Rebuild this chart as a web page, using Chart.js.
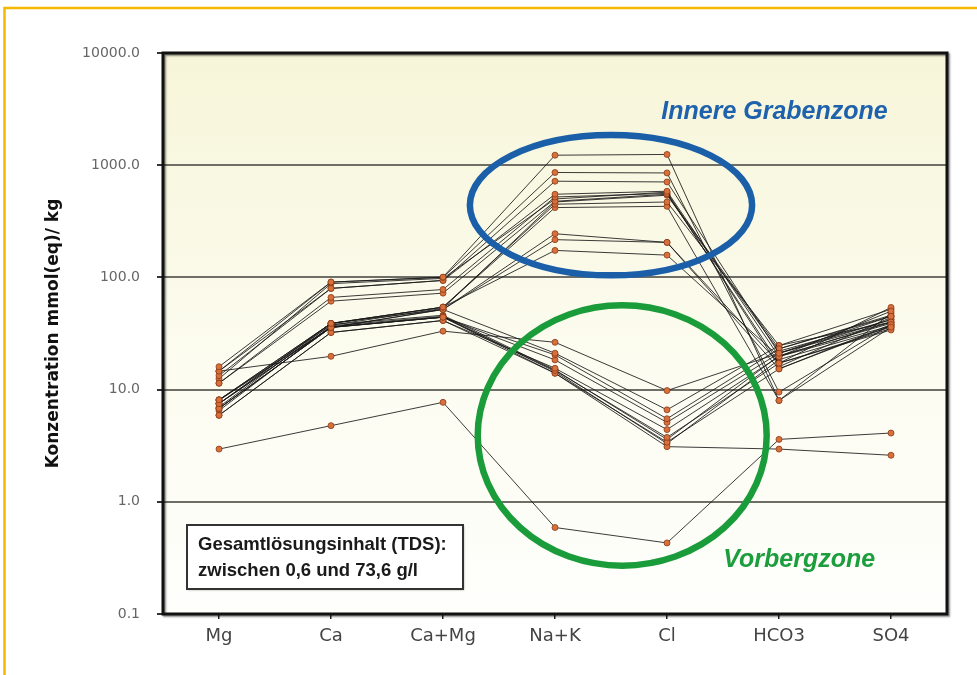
<!DOCTYPE html>
<html>
<head>
<meta charset="utf-8">
<script src="https://cdn.jsdelivr.net/npm/chart.js@4.4.1/dist/chart.umd.min.js"></script>
<style>
  html, body { margin: 0; padding: 0; background: #fff; }
  #wrap { width: 977px; height: 675px; position: relative; }
</style>
</head>
<body>
<div id="wrap"><canvas id="graphicFirst" width="977" height="675"></canvas></div>
<script>
// Ionen-Diagramm (Schoeller), log. Achse

const categories = ['Mg', 'Ca', 'Ca+Mg', 'Na+K', 'Cl', 'HCO3', 'SO4'];
const yTicks = [0.1, 1, 10, 100, 1000, 10000];

// Innere Grabenzone
const s01 = [16.0, 90.8, 100.6, 1228, 1247, 8.0, 36];
const s02 = [14.6, 90.8, 100.0, 861, 853, 9.5, 38];
const s03 = [13.3, 79.8, 94.0, 720, 709, 21.1, 45];
const s04 = [14.6, 79.8, 94.0, 551, 586, 19.7, 50];
const s05 = [11.4, 66.3, 78.0, 521, 560, 17.2, 54];
const s06 = [11.4, 61.4, 72.4, 477, 551, 23.1, 46];
const s07 = [8.1, 38.9, 54.3, 449, 470, 24.7, 40];
const s08 = [7.5, 38.9, 54.3, 419, 430, 8.0, 48];
const s09 = [8.1, 35.8, 51.8, 245, 205, 15.3, 37];
const s10 = [6.8, 35.8, 51.8, 217, 205, 17.2, 34];
const s11 = [7.5, 38.9, 54.3, 174, 158, 19.7, 40];
const s21 = [12.5, 88.0, 98.0, 500, 575, 16.0, 44];
const s22 = [8.0, 37.5, 53.0, 470, 540, 22.0, 42];
// Vorbergzone
const s12 = [14.6, 19.8, 33.2, 26.4, 9.8, 21.1, 42];
const s13 = [8.1, 38.9, 51.8, 21.1, 6.6, 24.7, 52];
const s14 = [7.5, 36.0, 44.2, 20.4, 5.5, 23.1, 45];
const s15 = [6.8, 35.8, 44.2, 18.4, 5.1, 21.1, 40];
const s16 = [5.9, 32.3, 41.3, 15.5, 4.4, 19.7, 37];
const s17 = [6.8, 35.8, 44.2, 14.8, 3.75, 17.2, 35];
const s18 = [5.9, 32.3, 41.3, 14.0, 3.4, 15.3, 38];
const s19 = [7.5, 36.0, 44.2, 14.0, 3.1, 2.95, 2.6];
const s23 = [6.5, 37.0, 45.0, 14.5, 3.3, 18.5, 36];
const s24 = [7.0, 38.0, 46.0, 15.0, 3.6, 20.0, 39];
const s20 = [2.95, 4.77, 7.7, 0.59, 0.43, 3.6, 4.1];

const allSeries = [s01, s02, s03, s04, s05, s06, s07, s08, s09, s10, s11, s21, s22,
                   s12, s13, s14, s15, s16, s17, s18, s19, s23, s24, s20];

// Ellipsen (Mitte als Kategorie-Index / Wert, Radien in Kategorien / Dekaden)
const zoneInner = { x: 3.5, y: 440, rx: 1.26, ry: 0.625, color: '#1a5fa8' };
const zoneOuter = { x: 3.6, y: 3.9, rx: 1.29, ry: 1.16, color: '#1a9c3a' };

const FONT = "'DejaVu Sans', Verdana, sans-serif";

function buildDatasets(){
  let out = [];
  for (let i = 0; i < allSeries.length; i++) {
    out.push({
      label: 'Probe ' + (i + 1),
      data: allSeries[i],
      borderColor: 'rgba(25,25,25,0.85)',
      borderWidth: 1,
      pointRadius: 3,
      pointBackgroundColor: '#d8703c',
      pointBorderColor: '#8c3b18',
      pointBorderWidth: 0.8,
      tension: 0
    });
  }
  return out;
}

//-----PLUGINS
const plotBackground = {
  id: 'plotBackground',
  beforeDraw(chart){
    const {ctx, chartArea: a} = chart;
    const g = ctx.createLinearGradient(0, a.top, 0, a.bottom);
    g.addColorStop(0, '#f7f5d8');
    g.addColorStop(0.55, '#fcfcf0');
    g.addColorStop(1, '#fefefc');
    ctx.save();
    ctx.fillStyle = g;
    ctx.fillRect(a.left, a.top, a.right - a.left, a.bottom - a.top);
    ctx.restore();
  }
};

function drawZone(chart, z){
  const xs = chart.scales.x, ys = chart.scales.y, ctx = chart.ctx;
  const cx = xs.getPixelForValue(z.x);
  const cy = ys.getPixelForValue(z.y);
  const rx = xs.getPixelForValue(z.x + z.rx) - cx;
  const ry = cy - ys.getPixelForValue(z.y * Math.pow(10, z.ry));
  ctx.save();
  ctx.beginPath();
  ctx.ellipse(cx, cy, rx, ry, 0, 0, Math.PI * 2);
  ctx.lineWidth = 6.5;
  ctx.strokeStyle = z.color;
  ctx.stroke();
  ctx.restore();
}

const decorations = {
  id: 'decorations',
  afterDraw(chart){
    const {ctx, chartArea: a} = chart;
    const xs = chart.scales.x, ys = chart.scales.y;

    drawZone(chart, zoneInner);
    drawZone(chart, zoneOuter);

    // Rahmen
    ctx.save();
    ctx.shadowColor = 'rgba(0,0,0,0.45)';
    ctx.shadowBlur = 2;
    ctx.shadowOffsetX = 1.5;
    ctx.shadowOffsetY = 1.5;
    ctx.lineWidth = 3;
    ctx.strokeStyle = '#111';
    ctx.strokeRect(a.left, a.top, a.right - a.left, a.bottom - a.top);
    ctx.restore();

    // Beschriftung der Zonen
    ctx.save();
    ctx.font = "italic bold 25px 'Liberation Sans', Arial, sans-serif";
    ctx.textAlign = 'center';
    ctx.textBaseline = 'middle';
    ctx.fillStyle = '#1e62ae';
    ctx.fillText('Innere Grabenzone', xs.getPixelForValue(4.96), ys.getPixelForValue(3000));
    ctx.fillStyle = '#1c9e3c';
    ctx.fillText('Vorbergzone', xs.getPixelForValue(5.18), ys.getPixelForValue(0.3));
    ctx.restore();

    // TDS-Kasten
    const bx = a.left + 24, by = a.bottom - 89, bw = 276, bh = 64;
    ctx.save();
    ctx.fillStyle = '#ffffff';
    ctx.shadowColor = 'rgba(0,0,0,0.35)';
    ctx.shadowBlur = 2;
    ctx.shadowOffsetX = 1;
    ctx.shadowOffsetY = 1;
    ctx.fillRect(bx, by, bw, bh);
    ctx.shadowColor = 'transparent';
    ctx.lineWidth = 2;
    ctx.strokeStyle = '#333';
    ctx.strokeRect(bx, by, bw, bh);
    ctx.fillStyle = '#1a1a1a';
    ctx.font = "bold 18.5px 'Liberation Sans', Arial, sans-serif";
    ctx.textAlign = 'left';
    ctx.textBaseline = 'middle';
    ctx.fillText('Gesamtlösungsinhalt (TDS):', bx + 11, by + 20);
    ctx.fillText('zwischen 0,6 und 73,6 g/l', bx + 11, by + 46);
    ctx.restore();

    // goldener Seitenrahmen
    ctx.save();
    ctx.strokeStyle = '#f5b800';
    ctx.lineWidth = 2.5;
    ctx.beginPath();
    ctx.moveTo(4.5, chart.height);
    ctx.lineTo(4.5, 8);
    ctx.lineTo(chart.width, 8);
    ctx.stroke();
    ctx.restore();
  }
};

//-----GRAPHIC
let chart1;
function drawFirstElement(){
  const ctx = document.getElementById('graphicFirst').getContext('2d');
  if (chart1) {
    chart1.destroy();
  }
  chart1 = new Chart(ctx, {
    type: 'line',
    data: { labels: categories, datasets: buildDatasets() },
    plugins: [plotBackground, decorations],
    options: {
      responsive: false,
      animation: false,
      layout: { padding: { left: 43, top: 53, right: 30, bottom: 0 } },
      plugins: { legend: { display: false }, tooltip: { enabled: false } },
      scales: {
        x: {
          type: 'category',
          offset: true,
          grid: { drawOnChartArea: false, drawTicks: true, tickLength: 5, tickColor: '#222', lineWidth: 1.5 },
          border: { display: false },
          ticks: { color: '#444', font: { family: FONT, size: 18 }, padding: 7, maxRotation: 0 },
          afterFit(scale){ scale.height = 61; }
        },
        y: {
          type: 'logarithmic',
          min: 0.1,
          max: 10000,
          afterBuildTicks(scale){ scale.ticks = yTicks.map(v => ({ value: v })); },
          grid: { color: '#6e6e66', lineWidth: 2, tickLength: 6, tickColor: '#333' },
          border: { display: false },
          ticks: {
            color: '#666',
            font: { family: FONT, size: 14 },
            padding: 17,
            callback: v => Number(v).toFixed(1)
          },
          title: {
            display: true,
            text: 'Konzentration mmol(eq)/ kg',
            color: '#111',
            font: { family: FONT, size: 17, weight: 'bold' },
            padding: { top: 0, bottom: 3 }
          },
          afterFit(scale){ scale.width = 120; }
        }
      }
    }
  });
}

drawFirstElement();
</script>
</body>
</html>
